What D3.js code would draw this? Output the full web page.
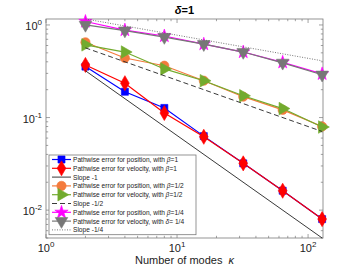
<!DOCTYPE html>
<html>
<head>
<meta charset="utf-8">
<script src="https://cdn.jsdelivr.net/npm/d3@7"></script>
<style>
  body { margin: 0; background: #fff; }
  text { font-family: "Liberation Sans", Arial, sans-serif; }
</style>
</head>
<body>
<script>
// modes kappa
var kappa = [2, 4, 8, 16, 32, 64, 128];

// series values
var posBeta1   = [0.355, 0.19, 0.127, 0.063, 0.032, 0.0162, 0.0080];
var velBeta1   = [0.37, 0.235, 0.112, 0.062, 0.032, 0.0162, 0.0080];
var posBetaHalf = [0.65, 0.44, 0.363, 0.25, 0.168, 0.121, 0.080];
var velBetaHalf = [0.61, 0.51, 0.335, 0.25, 0.172, 0.125, 0.079];
var posBetaQuarter = [1.09, 0.88, 0.76, 0.62, 0.51, 0.395, 0.296];
var velDeltaQuarter = [1.0, 0.87, 0.74, 0.62, 0.51, 0.39, 0.29];

// reference slopes c * k^p
var slopeConst = [0.64, 0.8, 1.38];
var slopePow = [-1, -0.5, -0.25];

var xTicks = [1, 10, 100];
var yTicks = [0.01, 0.1, 1];

var W = 357, H = 268;
var L = 46, R = 323, T = 19, B = 238;

var svg = d3.select("body").append("svg")
  .attr("width", W).attr("height", H);

var x = d3.scaleLog().domain([1, 130]).range([L, R]);
var y = d3.scaleLog().domain([0.005, 1.16]).range([B, T]);

// box
svg.append("rect")
  .attr("x", L).attr("y", T)
  .attr("width", R - L).attr("height", B - T)
  .attr("fill", "none").attr("stroke", "#7a7a7a").attr("stroke-width", 0.8);

// minor + major ticks (inside, MATLAB style)
var ax = svg.append("g").attr("stroke", "#7a7a7a").attr("stroke-width", 0.7);
function minors(lo, hi) {
  var out = [];
  for (var e = Math.floor(Math.log10(lo)); e <= Math.ceil(Math.log10(hi)); e++) {
    for (var m = 1; m < 10; m++) {
      var v = m * Math.pow(10, e);
      if (v >= lo && v <= hi) out.push({v: v, major: m == 1});
    }
  }
  return out;
}
minors(1, 130).forEach(function(t) {
  var len = t.major ? 4 : 2.2, xx = x(t.v);
  ax.append("line").attr("x1", xx).attr("x2", xx).attr("y1", B).attr("y2", B - len);
  ax.append("line").attr("x1", xx).attr("x2", xx).attr("y1", T).attr("y2", T + len);
});
minors(0.005, 1.16).forEach(function(t) {
  var len = t.major ? 4 : 2.2, yy = y(t.v);
  ax.append("line").attr("y1", yy).attr("y2", yy).attr("x1", L).attr("x2", L + len);
  ax.append("line").attr("y1", yy).attr("y2", yy).attr("x1", R).attr("x2", R - len);
});

// tick labels
xTicks.forEach(function(t) {
  var tx = svg.append("text")
    .attr("x", x(t)).attr("y", 252)
    .attr("text-anchor", "middle")
    .attr("font-size", 11).attr("fill", "#222");
  tx.append("tspan").text("10");
  tx.append("tspan").attr("dy", -5).attr("font-size", 8).text(Math.round(Math.log10(t)));
});
yTicks.forEach(function(t) {
  var tx = svg.append("text")
    .attr("x", 42).attr("y", y(t) + 5)
    .attr("text-anchor", "end")
    .attr("font-size", 11).attr("fill", "#222");
  tx.append("tspan").text("10");
  tx.append("tspan").attr("dy", -5).attr("font-size", 8).text(Math.round(Math.log10(t)));
});

// axis label and title
svg.append("text")
  .attr("x", (L + R) / 2).attr("y", 264)
  .attr("text-anchor", "middle").attr("font-size", 11).attr("fill", "#222")
  .html("Number of modes&#160;&#160;<tspan font-style='italic'>κ</tspan>");
svg.append("text")
  .attr("x", (L + R) / 2).attr("y", 14)
  .attr("text-anchor", "middle").attr("font-size", 11).attr("font-weight", "bold")
  .html("<tspan font-style='italic'>δ</tspan>=1");

var line = d3.line()
  .x(function(d) { return x(d[0]); })
  .y(function(d) { return y(d[1]); });

function sym(type, size, rot) {
  var s = d3.symbol().type(type).size(size)();
  return {d: s, rot: rot || 0};
}

var series = [
  {name: "Pathwise error for position, with ", greek: "β", tail: "=1", vals: posBeta1, color: "#0000ff", marker: sym(d3.symbolSquare, 50)},
  {name: "Pathwise error for velocity, with ", greek: "β", tail: "=1", vals: velBeta1, color: "#ff0000", marker: sym(d3.symbolDiamond, 66)},
  {name: "Slope -1", slope: 0, color: "#222", dash: null},
  {name: "Pathwise error for position, with ", greek: "β", tail: "=1/2", vals: posBetaHalf, color: "#f47a3c", marker: sym(d3.symbolCircle, 68)},
  {name: "Pathwise error for velocity, with ", greek: "β", tail: "=1/2", vals: velBetaHalf, color: "#72ab2e", marker: sym(d3.symbolTriangle, 68, 90)},
  {name: "Slope -1/2", slope: 1, color: "#222", dash: "5,3"},
  {name: "Pathwise error for position, with ", greek: "β", tail: "=1/4", vals: posBetaQuarter, color: "#ff00ff", marker: sym(d3.symbolStar, 55)},
  {name: "Pathwise error for velocity, with ", greek: "δ", tail: "= 1/4", vals: velDeltaQuarter, color: "#777777", marker: sym(d3.symbolTriangle, 68, 180)},
  {name: "Slope -1/4", slope: 2, color: "#666", dash: "1,1.5"}
];

var plot = svg.append("g");
series.forEach(function(s) {
  var pts;
  if (s.vals) {
    pts = kappa.map(function(k, i) { return [k, s.vals[i]]; });
    plot.append("path").datum(pts).attr("d", line)
      .attr("fill", "none").attr("stroke", s.color).attr("stroke-width", 1.2);
    plot.selectAll(null).data(pts).enter().append("path")
      .attr("d", s.marker.d)
      .attr("transform", function(d) { return "translate(" + x(d[0]) + "," + y(d[1]) + ") rotate(" + s.marker.rot + ")"; })
      .attr("fill", s.color).attr("stroke", s.color).attr("stroke-width", 0.6);
  } else {
    var c = slopeConst[s.slope], p = slopePow[s.slope];
    pts = [2, 128].map(function(k) { return [k, c * Math.pow(k, p)]; });
    plot.append("path").datum(pts).attr("d", line)
      .attr("fill", "none").attr("stroke", s.color).attr("stroke-width", 0.9)
      .attr("stroke-dasharray", s.dash);
  }
});

// legend
var lg = svg.append("g");
var lx = 49, ly = 155, lw = 147, rowH = 8.8;
lg.append("rect").attr("x", lx).attr("y", ly)
  .attr("width", lw).attr("height", rowH * series.length + 0.5)
  .attr("fill", "#fff").attr("stroke", "#7a7a7a").attr("stroke-width", 0.8);
series.forEach(function(s, i) {
  var yy = ly + 4.5 + i * rowH;
  lg.append("line").attr("x1", lx + 3).attr("x2", lx + 22).attr("y1", yy).attr("y2", yy)
    .attr("stroke", s.color).attr("stroke-width", s.vals ? 1.2 : 0.9)
    .attr("stroke-dasharray", s.dash || null);
  if (s.vals) {
    lg.append("path").attr("d", s.marker.d)
      .attr("transform", "translate(" + (lx + 12.5) + "," + yy + ") rotate(" + s.marker.rot + ")")
      .attr("fill", s.color).attr("stroke", s.color).attr("stroke-width", 0.6);
  }
  var t = lg.append("text").attr("x", lx + 24).attr("y", yy + 2.5)
    .attr("font-size", 6.6).attr("fill", "#222");
  t.append("tspan").text(s.name);
  if (s.greek) {
    t.append("tspan").attr("font-style", "italic").text(s.greek);
    t.append("tspan").text(s.tail);
  }
});
</script>
</body>
</html>
